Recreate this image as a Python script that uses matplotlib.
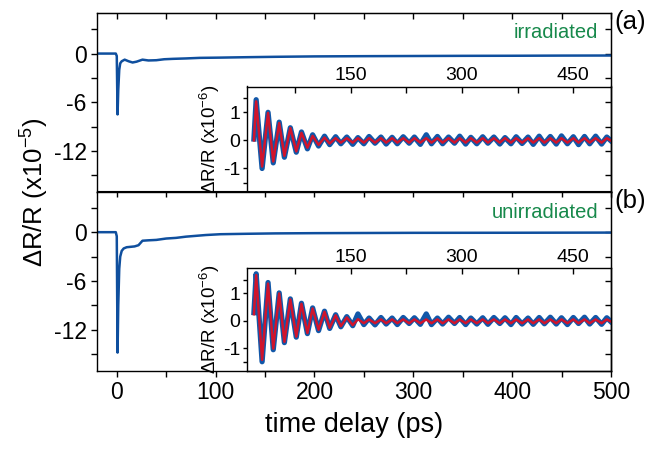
import numpy as np
import matplotlib
matplotlib.use("Agg")
import matplotlib.pyplot as plt
from matplotlib.ticker import FixedLocator

plt.rcParams['font.family'] = ['Liberation Sans', 'DejaVu Sans']
plt.rcParams['mathtext.fontset'] = 'custom'
plt.rcParams['mathtext.rm'] = 'Liberation Sans'
plt.rcParams['mathtext.it'] = 'Liberation Sans:italic'
plt.rcParams['axes.unicode_minus'] = False

# main traces (ps, x1e-5)
t_a = [-20, -1, 0, 0.8, 1.5, 2.5, 3.5, 5, 8, 12, 16, 20, 26, 32, 40, 48, 57, 70, 84,
       104, 130, 160, 200, 250, 300, 350, 400, 450, 500]
v_a = [0, 0, -0.3, -7.5, -4.5, -2.0, -1.2, -0.95, -0.75, -0.95, -1.1, -1.0, -0.75, -0.85,
       -0.82, -0.7, -0.65, -0.6, -0.53, -0.5, -0.45, -0.4, -0.35, -0.32, -0.3, -0.28,
       -0.27, -0.25, -0.24]
t_b = [-20, -1, 0, 0.8, 1.5, 2.5, 3.5, 5, 7, 10, 14, 18, 22, 26, 32, 40, 50, 60, 70, 80,
       90, 105, 130, 160, 200, 250, 300, 400, 500]
v_b = [0, 0, -0.5, -14.8, -9.0, -4.5, -3.0, -2.3, -2.0, -1.85, -1.8, -1.75, -1.6, -1.05,
       -1.0, -0.95, -0.78, -0.7, -0.55, -0.45, -0.35, -0.25, -0.2, -0.15, -0.12, -0.1,
       -0.08, -0.07, -0.05]

# inset oscillations, read at the extrema (ps, x1e-6)
t_osc = [20, 23, 31, 39, 46, 54, 61, 69, 77, 84, 92, 99, 107, 115, 122, 130, 137, 145,
         153, 160, 168, 175, 183, 191, 198, 206, 213, 221, 229, 236, 244, 252, 259, 267,
         274, 282, 290, 297, 305, 312, 320, 328, 335, 343, 351, 358, 366, 373, 381, 389,
         396, 404, 411, 419, 427, 434, 442, 450, 457, 465, 472, 480, 488, 495, 500]
data_a = [0.05, 1.45, -1.0, 1.0, -0.8, 0.65, -0.6, 0.45, -0.42, 0.3, -0.3, 0.2, -0.2,
          0.15, -0.15, 0.13, -0.12, 0.12, -0.14, 0.1, -0.12, 0.14, -0.1, 0.12, -0.13,
          0.11, -0.12, 0.13, -0.1, 0.12, -0.14, 0.2, -0.12, 0.14, -0.12, 0.12, -0.1,
          0.15, -0.13, 0.11, -0.12, 0.13, -0.1, 0.12, -0.13, 0.1, -0.12, 0.13, -0.11,
          0.12, -0.14, 0.15, -0.12, 0.14, -0.13, 0.16, -0.12, 0.13, -0.15, 0.14, -0.12,
          0.15, -0.13, 0.12, 0.0]
fit_a = [0.0, 1.39, -0.93, 0.98, -0.75, 0.62, -0.55, 0.44, -0.39, 0.27, -0.26, 0.16,
         -0.16, 0.1, -0.11, 0.08, -0.08, 0.08, -0.08, 0.08, -0.08, 0.08, -0.08, 0.08,
         -0.08, 0.08, -0.08, 0.08, -0.08, 0.08, -0.08, 0.08, -0.08, 0.08, -0.08, 0.08,
         -0.08, 0.08, -0.08, 0.08, -0.08, 0.08, -0.08, 0.08, -0.08, 0.08, -0.08, 0.08,
         -0.08, 0.08, -0.08, 0.08, -0.08, 0.08, -0.08, 0.08, -0.08, 0.08, -0.08, 0.08,
         -0.08, 0.08, -0.08, 0.08, 0.0]
data_b = [0.3, 1.72, -1.5, 1.4, -1.06, 1.02, -0.8, 0.8, -0.6, 0.64, -0.47, 0.47, -0.36,
          0.35, -0.28, 0.22, -0.22, 0.15, -0.18, 0.25, -0.14, 0.1, -0.15, 0.12, -0.12,
          0.1, -0.14, 0.12, -0.1, 0.11, -0.13, 0.25, -0.14, 0.1, -0.12, 0.13, -0.1,
          0.12, -0.14, 0.1, -0.12, 0.11, -0.13, 0.12, -0.1, 0.11, -0.14, 0.12, -0.12,
          0.1, -0.13, 0.12, -0.11, 0.13, -0.12, 0.11, -0.14, 0.12, -0.1, 0.13, -0.12,
          0.12, -0.13, 0.11, -0.02]
fit_b = [0.24, 1.67, -1.43, 1.36, -1.02, 1.0, -0.77, 0.78, -0.58, 0.62, -0.45, 0.45,
         -0.33, 0.33, -0.26, 0.2, -0.2, 0.12, -0.16, 0.06, -0.09, 0.05, -0.09, 0.05,
         -0.09, 0.05, -0.09, 0.05, -0.09, 0.05, -0.09, 0.05, -0.09, 0.05, -0.09, 0.05,
         -0.09, 0.05, -0.09, 0.05, -0.09, 0.05, -0.09, 0.05, -0.09, 0.05, -0.09, 0.05,
         -0.09, 0.05, -0.09, 0.05, -0.09, 0.05, -0.09, 0.05, -0.09, 0.05, -0.09, 0.05,
         -0.09, 0.05, -0.09, 0.05, -0.02]

labels = ['irradiated', 'unirradiated']
panel_tags = ['(a)', '(b)']

blue = '#0f4f9e'
blue_in = '#1257a8'
red = '#d0142c'
green = '#17894b'

fig = plt.figure(figsize=(6.49, 4.51), dpi=100)
W, H = 649.0, 451.0

# main panels: (left, bottom, width, height) in figure pixels
main_box = [(97, 191.5, 514, 178.5), (97, 370.5, 514, 179)]
inset_top = [86.5, 268.3]

traces = [(t_a, v_a), (t_b, v_b)]
osc = [(data_a, fit_a), (data_b, fit_b)]

for i in range(2):
    l, b, w, h = main_box[i]
    ax = fig.add_axes([l / W, 1 - b / H, w / W, h / H])
    ax.plot(traces[i][0], traces[i][1], color=blue, lw=1.8)
    ax.set_xlim(-20, 500)
    ax.set_ylim(-17, 5)
    ax.set_yticks([-12, -6, 0])
    ax.yaxis.set_minor_locator(FixedLocator([-15, -9, -3, 3]))
    ax.set_xticks([0, 100, 200, 300, 400, 500])
    ax.xaxis.set_minor_locator(FixedLocator([50, 150, 250, 350, 450]))
    ax.tick_params(which='both', direction='out', length=4, width=1, labelsize=16.5)
    for s in ax.spines.values():
        s.set_linewidth(1.0)
    # mirrored ticks on top/right, pointing in
    sx = ax.secondary_xaxis('top')
    sx.set_xticks([0, 100, 200, 300, 400, 500])
    sx.xaxis.set_minor_locator(FixedLocator([50, 150, 250, 350, 450]))
    sx.tick_params(which='both', direction='in', length=4, width=1, labeltop=False)
    sy = ax.secondary_yaxis('right')
    sy.set_yticks([-12, -6, 0])
    sy.yaxis.set_minor_locator(FixedLocator([-15, -9, -3, 3]))
    sy.tick_params(which='both', direction='in', length=4, width=1, labelright=False)
    if i == 0:
        ax.tick_params(labelbottom=False)
    else:
        ax.set_xlabel('time delay (ps)', fontsize=19.5, labelpad=6)

    ax.text(598 / W, 1 - (32 + 180 * i) / H, labels[i], transform=fig.transFigure,
            ha='right', va='center', color=green, fontsize=14.5)
    fig.text(630 / W, 1 - (22 + 179 * i) / H, panel_tags[i], ha='center', va='center',
             fontsize=18.5)

    # inset
    it = inset_top[i]
    axi = fig.add_axes([246.5 / W, 1 - b / H, (610.5 - 246.5) / W, (b - it) / H])
    axi.set_facecolor('none')
    axi.plot(t_osc, osc[i][0], color=blue_in, lw=3.8, solid_joinstyle='round')
    axi.plot(t_osc, osc[i][1], color=red, lw=1.8, solid_joinstyle='round')
    axi.set_xlim(10, 500)
    axi.set_ylim(-1.82, 1.92)
    axi.set_xticks([150, 300, 450])
    axi.xaxis.set_minor_locator(FixedLocator([75, 225, 375]))
    axi.set_yticks([-1, 0, 1])
    axi.yaxis.set_minor_locator(FixedLocator([-1.5, 1.5]))
    axi.xaxis.tick_top()
    axi.tick_params(axis='x', which='both', direction='in', length=4, width=1,
                    labelsize=14, pad=2)
    axi.tick_params(axis='y', which='both', direction='out', length=3, width=1,
                    labelsize=14, pad=1.5)
    for s in axi.spines.values():
        s.set_linewidth(1.0)
    axi.set_ylabel('ΔR/R (x10$^{-6}$)', fontsize=13.5, labelpad=0.5)

fig.text(35 / W, 1 - 192 / H, 'ΔR/R (x10$^{-5}$)', rotation=90, ha='center',
         va='center', fontsize=18.5)

fig.savefig('out.png', dpi=100)
